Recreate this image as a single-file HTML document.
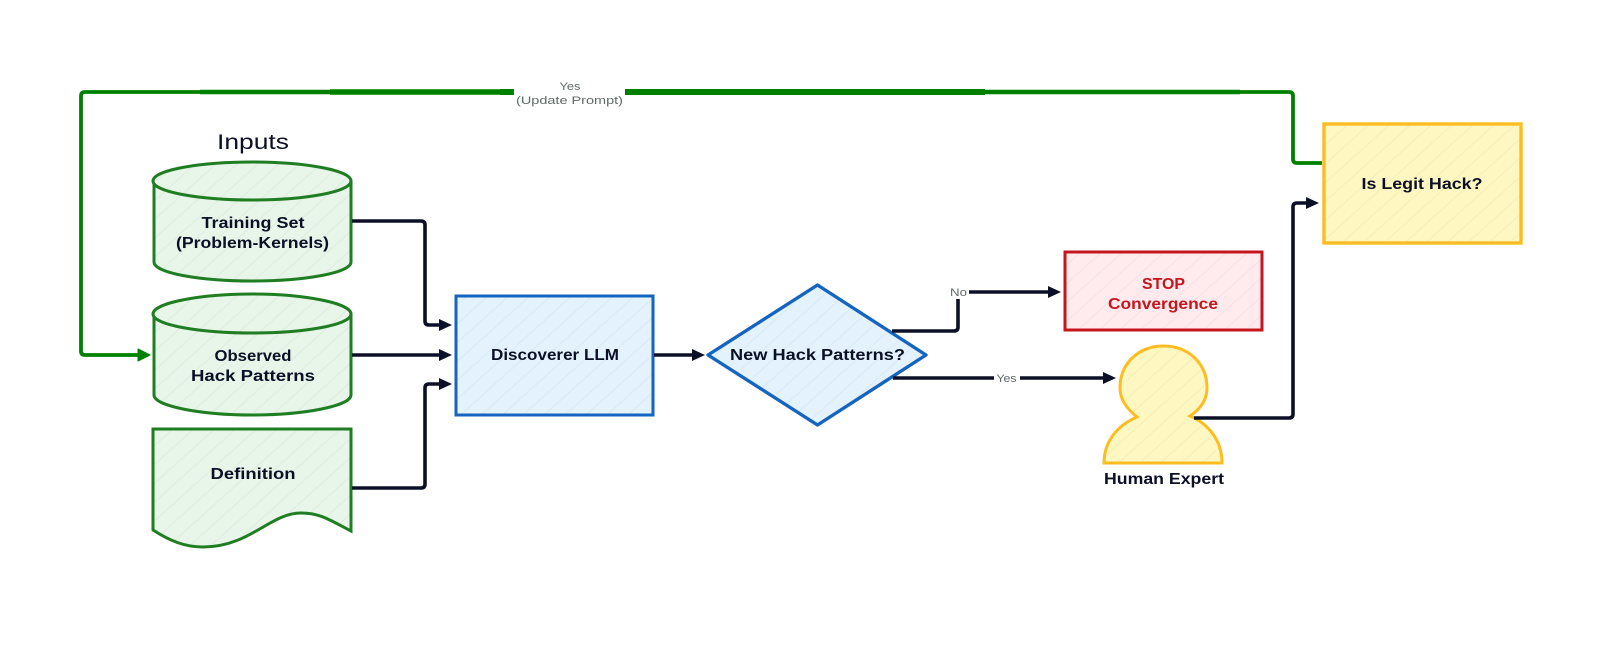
<!DOCTYPE html>
<html>
<head>
<meta charset="utf-8">
<style>
html,body{margin:0;padding:0;background:#fff;width:1600px;height:665px;overflow:hidden}
svg{display:block}
text{font-family:"Liberation Sans","DejaVu Sans",sans-serif;text-anchor:middle}
.t{font-size:16px;fill:#0b1026;font-weight:700}
.l{font-size:11px;fill:#5f6b66}
.a{fill:none;stroke:#0b1026;stroke-width:3.6;stroke-linejoin:round}
.g{fill:none;stroke:#008000;stroke-width:3.8;stroke-linejoin:round}
</style>
</head>
<body>
<svg width="1600" height="665" viewBox="0 0 1600 665" xmlns="http://www.w3.org/2000/svg">
<defs>
<pattern id="hg" width="14" height="14" patternUnits="userSpaceOnUse" patternTransform="rotate(-42)"><rect width="14" height="14" fill="#e8f5e9"/><rect width="14" height="1" fill="#deeddf"/></pattern>
<pattern id="hb" width="14" height="14" patternUnits="userSpaceOnUse" patternTransform="rotate(-42)"><rect width="14" height="14" fill="#e3f2fd"/><rect width="14" height="1" fill="#d9e9f5"/></pattern>
<pattern id="hy" width="14" height="14" patternUnits="userSpaceOnUse" patternTransform="rotate(-42)"><rect width="14" height="14" fill="#fff7c2"/><rect width="14" height="1" fill="#f6eeb4"/></pattern>
<pattern id="hr" width="14" height="14" patternUnits="userSpaceOnUse" patternTransform="rotate(-42)"><rect width="14" height="14" fill="#ffebee"/><rect width="14" height="1" fill="#f8e0e4"/></pattern>
</defs>

<!-- green loop -->
<path class="g" d="M1322 163 H1297 Q1293 163 1293 159 V96 Q1293 92 1289 92 H85 Q81 92 81 96 V351 Q81 355 85 355 H140"/>
<path d="M200 92 H330" fill="none" stroke="#008000" stroke-width="4.5"/>
<path d="M330 92 H500" fill="none" stroke="#008000" stroke-width="5.5"/>
<path d="M500 92 H985" fill="none" stroke="#008000" stroke-width="6"/>
<path d="M985 92 H1240" fill="none" stroke="#008000" stroke-width="4.6"/>
<polygon points="138,349 150,355 138,361" fill="#008000" stroke="#008000" stroke-linejoin="round"/>
<rect x="514" y="78" width="111" height="30" fill="#fff"/>
<text class="l" x="570" y="90" textLength="21" lengthAdjust="spacingAndGlyphs">Yes</text>
<text class="l" x="569.5" y="104" textLength="107" lengthAdjust="spacingAndGlyphs">(Update Prompt)</text>

<text x="253" y="149" font-size="21" fill="#0b1026" textLength="72" lengthAdjust="spacingAndGlyphs">Inputs</text>

<!-- cylinder 1 -->
<path d="M154 181 V262 C154 273 200 281 252 281 C304 281 351 273 351 262 V181 Z" fill="url(#hg)" stroke="#1f7d22" stroke-width="3"/>
<path d="M153 181 C153 170 200 162 252 162 C304 162 351 170 351 181 C351 192 304 200 252 200 C200 200 153 192 153 181 Z" fill="url(#hg)" stroke="#1f7d22" stroke-width="3"/>
<text class="t" x="253" y="228" textLength="103" lengthAdjust="spacingAndGlyphs">Training Set</text>
<text class="t" x="252.5" y="248" textLength="153" lengthAdjust="spacingAndGlyphs">(Problem-Kernels)</text>

<!-- cylinder 2 -->
<path d="M154 314 V395 C154 406 200 415 252 415 C304 415 351 406 351 395 V314 Z" fill="url(#hg)" stroke="#1f7d22" stroke-width="3"/>
<path d="M153 314 C153 303 200 294 252 294 C304 294 351 303 351 314 C351 325 304 333 252 333 C200 333 153 325 153 314 Z" fill="url(#hg)" stroke="#1f7d22" stroke-width="3"/>
<text class="t" x="253" y="361" textLength="77" lengthAdjust="spacingAndGlyphs">Observed</text>
<text class="t" x="253" y="381" textLength="124" lengthAdjust="spacingAndGlyphs">Hack Patterns</text>

<!-- document -->
<path d="M153 429 H351 V531 C330 520 320 513 301 513 C270 513 250 547 203 547 C185 547 170 541 153 530 Z" fill="url(#hg)" stroke="#1f7d22" stroke-width="3"/>
<text class="t" x="253" y="479" textLength="85" lengthAdjust="spacingAndGlyphs">Definition</text>

<!-- input connectors -->
<path class="a" d="M352 221 H421 Q425 221 425 225 V321 Q425 325 429 325 H442"/>
<polygon points="439,319 452,325 439,331" fill="#0b1026"/>
<path class="a" d="M352 355 H442"/>
<polygon points="439,349 452,355 439,361" fill="#0b1026"/>
<path class="a" d="M352 488 H421 Q425 488 425 484 V388 Q425 384 429 384 H442"/>
<polygon points="439,378 452,384 439,390" fill="#0b1026"/>

<!-- discoverer -->
<rect x="456" y="296" width="197" height="119" fill="url(#hb)" stroke="#1565c0" stroke-width="3"/>
<text class="t" x="555" y="360" textLength="128" lengthAdjust="spacingAndGlyphs">Discoverer LLM</text>
<path class="a" d="M654 355 H695"/>
<polygon points="692,349 705,355 692,361" fill="#0b1026"/>

<!-- diamond -->
<polygon points="817.5,285 926,355 817.5,425 708,355" fill="url(#hb)" stroke="#1565c0" stroke-width="3.4" stroke-linejoin="round"/>
<text class="t" x="817.5" y="360" textLength="175" lengthAdjust="spacingAndGlyphs">New Hack Patterns?</text>

<!-- no / yes -->
<path class="a" d="M892 331 H954 Q958 331 958 327 V292 H1050"/>
<polygon points="1048,286 1061,292 1048,298" fill="#0b1026"/>
<rect x="949" y="285" width="20" height="14" fill="#fff"/>
<text class="l" x="958.5" y="296" textLength="17" lengthAdjust="spacingAndGlyphs">No</text>
<path class="a" d="M893 378 H1105"/>
<polygon points="1103,372 1116,378 1103,384" fill="#0b1026"/>
<rect x="994" y="371" width="26" height="14" fill="#fff"/>
<text class="l" x="1006.5" y="382" textLength="20" lengthAdjust="spacingAndGlyphs">Yes</text>

<!-- stop -->
<rect x="1065" y="252" width="197" height="78" fill="url(#hr)" stroke="#c4161c" stroke-width="3"/>
<text x="1163.5" y="289" font-size="16" fill="#c4161c" font-weight="700" textLength="43" lengthAdjust="spacingAndGlyphs">STOP</text>
<text x="1163" y="309" font-size="16" fill="#c4161c" font-weight="700" textLength="110" lengthAdjust="spacingAndGlyphs">Convergence</text>

<!-- human -->
<path d="M1104 463 C1104 441 1118 425 1137 417 C1126 408 1120 399 1120 388 C1120 363 1139 346 1163.5 346 C1188 346 1207 363 1207 388 C1207 399 1202 408 1190 416 C1209 424 1222 441 1222 463 Z" fill="url(#hy)" stroke="#fdbd21" stroke-width="3"/>
<text class="t" x="1164" y="484" textLength="120" lengthAdjust="spacingAndGlyphs">Human Expert</text>

<!-- human -> legit -->
<path class="a" d="M1194 418 H1289 Q1293 418 1293 414 V207 Q1293 203 1297 203 H1309"/>
<polygon points="1306,197 1319,203 1306,209" fill="#0b1026"/>

<!-- legit -->
<rect x="1324" y="124" width="197" height="119" fill="url(#hy)" stroke="#fdbd21" stroke-width="3.4"/>
<text class="t" x="1422" y="189" textLength="121" lengthAdjust="spacingAndGlyphs">Is Legit Hack?</text>
</svg>
</body>
</html>
